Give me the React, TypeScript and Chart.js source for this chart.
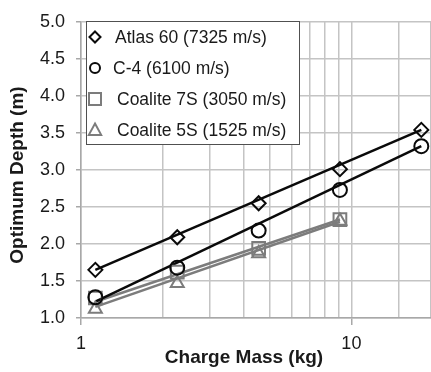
import React, { useEffect, useRef } from 'react';
import { Chart, registerables } from 'chart.js';

Chart.register(...registerables);

// ---- Data ----
const massKg = [1.13, 2.27, 4.54, 9.07, 18.14];
const atlas60Depth = [1.65, 2.09, 2.55, 3.01, 3.54];
const c4Depth = [1.28, 1.68, 2.18, 2.73, 3.32];
const coalite7SDepth = [1.27, 1.62, 1.94, 2.33];
const coalite5SDepth = [1.12, 1.47, 1.87, 2.31];

// trend lines (end points)
const trendMassLong = [1.13, 18.14];
const trendMassShort = [1.13, 9.07];
const atlas60Trend = [1.65, 3.54];
const c4Trend = [1.22, 3.32];
const coalite7STrend = [1.22, 2.33];
const coalite5STrend = [1.15, 2.3];

const seriesLabels = [
  'Atlas 60 (7325 m/s)',
  'C-4 (6100 m/s)',
  'Coalite 7S (3050 m/s)',
  'Coalite 5S (1525 m/s)',
];
const xTickLabels = ['1', '10'];
const yTickStep = 0.5;

const BLACK = '#0a0a0a';
const GRAY = '#7c7c7c';
const FONT = '"Liberation Sans", Arial, sans-serif';

const pts = (xs: number[], ys: number[]) => ys.map((y, i) => ({ x: xs[i], y }));

function drawMarker(ctx: CanvasRenderingContext2D, kind: string, x: number, y: number, r: number) {
  ctx.beginPath();
  if (kind === 'rectRot') {
    ctx.moveTo(x, y - r);
    ctx.lineTo(x + r, y);
    ctx.lineTo(x, y + r);
    ctx.lineTo(x - r, y);
    ctx.closePath();
  } else if (kind === 'circle') {
    ctx.arc(x, y, r, 0, Math.PI * 2);
  } else if (kind === 'rect') {
    ctx.rect(x - r, y - r, 2 * r, 2 * r);
  } else if (kind === 'triangle') {
    ctx.moveTo(x, y - r);
    ctx.lineTo(x + r * 0.95, y + r * 0.75);
    ctx.lineTo(x - r * 0.95, y + r * 0.75);
    ctx.closePath();
  }
  ctx.stroke();
}

const legendPlugin = {
  id: 'boxLegend',
  afterDatasetsDraw(chart: any) {
    const ctx: CanvasRenderingContext2D = chart.ctx;
    ctx.save();
    const left = 86.5, top = 21.5, w = 213, h = 123;
    ctx.fillStyle = '#ffffff';
    ctx.fillRect(left, top, w, h);
    ctx.strokeStyle = '#505050';
    ctx.lineWidth = 1;
    ctx.strokeRect(left, top, w, h);
    const rows = [37, 68, 99, 130];
    const kinds = ['rectRot', 'circle', 'rect', 'triangle'];
    const colors = [BLACK, BLACK, GRAY, GRAY];
    const sizes = [5.5, 5, 6, 6.5];
    const textX = [115, 113, 117, 117];
    ctx.font = `17.5px ${FONT}`;
    ctx.textBaseline = 'middle';
    ctx.textAlign = 'left';
    rows.forEach((ry, i) => {
      ctx.strokeStyle = colors[i];
      ctx.lineWidth = 2;
      drawMarker(ctx, kinds[i], 95, ry, sizes[i]);
      ctx.fillStyle = '#1a1a1a';
      ctx.fillText(seriesLabels[i], textX[i], ry + 1);
    });
    ctx.restore();
  },
};

const titlePlugin = {
  id: 'axisTitles',
  afterDraw(chart: any) {
    const ctx: CanvasRenderingContext2D = chart.ctx;
    ctx.save();
    ctx.fillStyle = '#1a1a1a';
    ctx.font = `bold 19px ${FONT}`;
    ctx.textAlign = 'center';
    ctx.textBaseline = 'middle';
    ctx.fillText('Charge Mass (kg)', 244, 358);
    ctx.translate(18, 175);
    ctx.rotate(-Math.PI / 2);
    ctx.fillText('Optimum Depth (m)', 0, 0);
    ctx.restore();
  },
};

export default function App() {
  const ref = useRef<HTMLCanvasElement>(null);

  useEffect(() => {
    if (!ref.current) return;
    Chart.defaults.font.family = FONT;
    const markerCommon = {
      showLine: false,
      pointBackgroundColor: 'rgba(255,255,255,0)',
      pointBorderWidth: 2,
    };
    const chart = new Chart(ref.current, {
      type: 'scatter',
      data: {
        datasets: [
          {
            ...markerCommon,
            label: seriesLabels[0],
            data: pts(massKg, atlas60Depth),
            pointStyle: 'rectRot',
            pointRadius: 7,
            borderColor: BLACK,
            pointBorderColor: BLACK,
          },
          {
            ...markerCommon,
            label: seriesLabels[1],
            data: pts(massKg, c4Depth),
            pointStyle: 'circle',
            pointRadius: 7,
            borderColor: BLACK,
            pointBorderColor: BLACK,
          },
          {
            ...markerCommon,
            label: seriesLabels[3],
            data: pts(massKg, coalite5SDepth),
            pointStyle: 'triangle',
            pointRadius: 7.5,
            borderColor: GRAY,
            pointBorderColor: GRAY,
          },
          {
            ...markerCommon,
            label: seriesLabels[2],
            data: pts(massKg, coalite7SDepth),
            pointStyle: 'rect',
            pointRadius: 9,
            borderColor: GRAY,
            pointBorderColor: GRAY,
          },
          {
            label: 'trend atlas',
            data: pts(trendMassLong, atlas60Trend),
            showLine: true,
            pointRadius: 0,
            borderColor: BLACK,
            borderWidth: 2.5,
          },
          {
            label: 'trend c4',
            data: pts(trendMassLong, c4Trend),
            showLine: true,
            pointRadius: 0,
            borderColor: BLACK,
            borderWidth: 2.5,
          },
          {
            label: 'trend 7s',
            data: pts(trendMassShort, coalite7STrend),
            showLine: true,
            pointRadius: 0,
            borderColor: GRAY,
            borderWidth: 2.5,
          },
          {
            label: 'trend 5s',
            data: pts(trendMassShort, coalite5STrend),
            showLine: true,
            pointRadius: 0,
            borderColor: GRAY,
            borderWidth: 2.5,
          },
        ],
      },
      options: {
        responsive: false,
        animation: false,
        layout: { autoPadding: false, padding: { top: 17, right: 0, left: 0, bottom: 0 } },
        plugins: {
          legend: { display: false },
          tooltip: { enabled: false },
        },
        scales: {
          x: {
            type: 'logarithmic',
            min: 1,
            max: 19.7,
            afterFit: (s: any) => {
              s.height = 54;
              s.paddingRight = 0;
              s.paddingLeft = 0;
            },
            border: { color: '#a8a8a8', width: 1.5 },
            grid: {
              color: '#c4c4c4',
              lineWidth: 1.5,
              tickLength: 7,
              tickColor: (c: any) =>
                c.tick && (c.tick.value === 1 || c.tick.value === 10) ? '#a8a8a8' : 'rgba(0,0,0,0)',
            },
            ticks: {
              autoSkip: false,
              maxRotation: 0,
              padding: 8,
              color: '#1a1a1a',
              font: { size: 18 },
              callback: (v: any) => {
                const s = String(v);
                return xTickLabels.includes(s) ? s : '';
              },
            },
          },
          y: {
            min: 1,
            max: 5,
            afterFit: (s: any) => {
              s.width = 81;
            },
            border: { color: '#a8a8a8', width: 1.5 },
            grid: { color: '#c4c4c4', lineWidth: 1.5, tickLength: 5, tickColor: '#a8a8a8' },
            ticks: {
              stepSize: yTickStep,
              padding: 11,
              color: '#1a1a1a',
              font: { size: 18 },
              callback: (v: any) => Number(v).toFixed(1),
            },
          },
        },
      },
      plugins: [legendPlugin, titlePlugin],
    });
    return () => chart.destroy();
  }, []);

  return (
    <canvas
      ref={ref}
      width={431}
      height={372}
      style={{ position: 'absolute', left: 0, top: 0, width: 431, height: 372, display: 'block' }}
    />
  );
}
